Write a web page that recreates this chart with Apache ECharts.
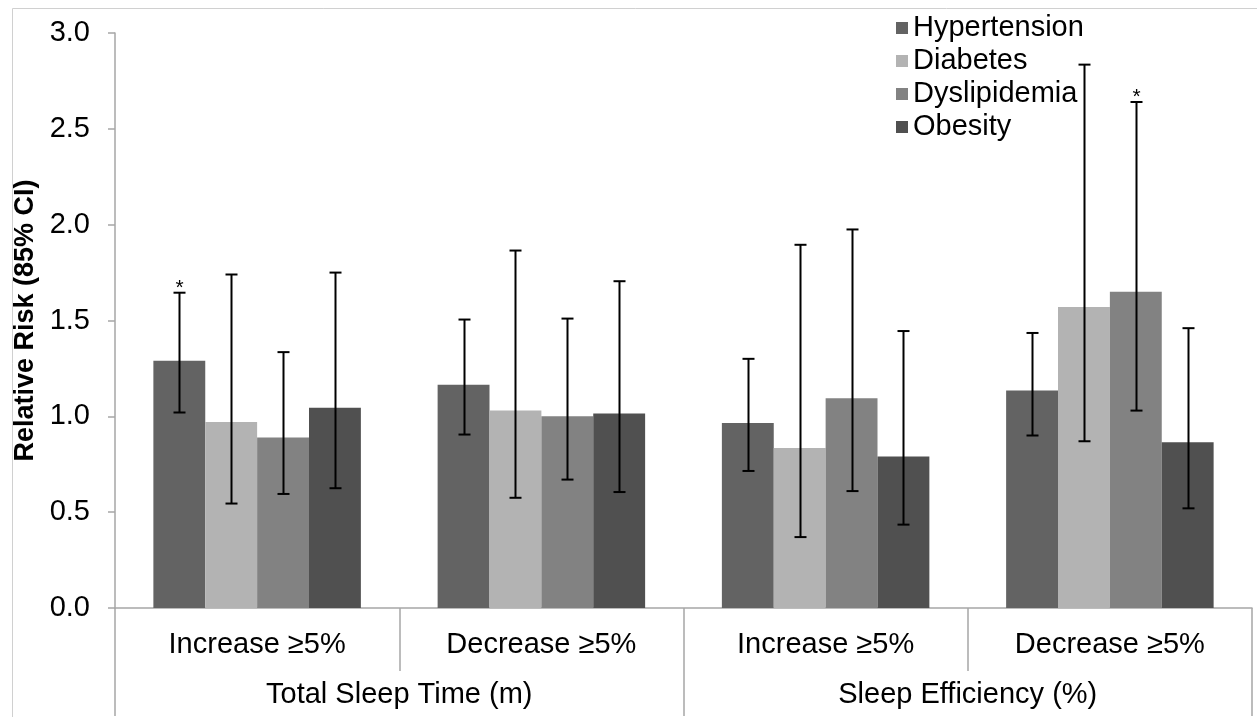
<!DOCTYPE html>
<html>
<head>
<meta charset="utf-8">
<script src="https://cdn.jsdelivr.net/npm/echarts@6/dist/echarts.min.js"></script>
<style>
html,body{margin:0;padding:0;background:#fff;}
#chart{width:1257px;height:717px;}
</style>
</head>
<body>
<div id="chart"></div>
<script>
// ---- data ----
const subCategories = ['Increase \u22655%', 'Decrease \u22655%', 'Increase \u22655%', 'Decrease \u22655%'];
const groupCategories = ['Total Sleep Time (m)', 'Sleep Efficiency (%)'];
const seriesNames = ['Hypertension', 'Diabetes', 'Dyslipidemia', 'Obesity'];
const yTicks = [0, 0.5, 1.0, 1.5, 2.0, 2.5, 3.0];

const hypertension = [1.29, 1.165, 0.965, 1.135];
const hypertensionLo = [1.02, 0.905, 0.715, 0.90];
const hypertensionHi = [1.645, 1.505, 1.30, 1.435];

const diabetes = [0.97, 1.03, 0.835, 1.57];
const diabetesLo = [0.545, 0.575, 0.37, 0.87];
const diabetesHi = [1.74, 1.865, 1.895, 2.835];

const dyslipidemia = [0.89, 1.0, 1.095, 1.65];
const dyslipidemiaLo = [0.595, 0.67, 0.61, 1.03];
const dyslipidemiaHi = [1.335, 1.51, 1.975, 2.64];

const obesity = [1.045, 1.015, 0.79, 0.865];
const obesityLo = [0.625, 0.605, 0.435, 0.52];
const obesityHi = [1.75, 1.705, 1.445, 1.46];

// significance markers (1 = asterisk)
const hypertensionSig = [1, 0, 0, 0];
const diabetesSig = [0, 0, 0, 0];
const dyslipidemiaSig = [0, 0, 0, 1];
const obesitySig = [0, 0, 0, 0];

// ---- build ----
const colors = ['#636363', '#b3b3b3', '#828282', '#505050'];
const values = [hypertension, diabetes, dyslipidemia, obesity];
const los = [hypertensionLo, diabetesLo, dyslipidemiaLo, obesityLo];
const his = [hypertensionHi, diabetesHi, dyslipidemiaHi, obesityHi];
const sigs = [hypertensionSig, diabetesSig, dyslipidemiaSig, obesitySig];
const FONT = "'Liberation Sans', Arial, sans-serif";
const GAP = 0.27;
const AXIS_COLOR = '#a6a6a6';
const FS = 29;

const errData = [];
for (let s = 0; s < 4; s++) {
  for (let c = 0; c < 4; c++) {
    errData.push([c, s, los[s][c], his[s][c], sigs[s][c]]);
  }
}

const barSeries = seriesNames.map((name, i) => ({
  name: name,
  type: 'bar',
  xAxisIndex: 0,
  yAxisIndex: 0,
  data: values[i],
  barGap: '0%',
  barCategoryGap: (GAP * 100) + '%',
  itemStyle: { color: colors[i] },
  emphasis: { disabled: true },
  z: 2
}));

const errSeries = {
  type: 'custom',
  xAxisIndex: 0,
  yAxisIndex: 0,
  z: 5,
  silent: true,
  encode: { x: 0, y: [2, 3] },
  data: errData,
  renderItem: function (params, api) {
    const c = api.value(0), s = api.value(1);
    const lo = api.coord([c, api.value(2)]);
    const hi = api.coord([c, api.value(3)]);
    const catW = api.size([1, 0])[0];
    const barW = catW * (1 - GAP) / 4;
    const x = Math.round(lo[0] + (s - 1.5) * barW) + 0.5;
    const capW = 6;
    const style = { stroke: '#000', lineWidth: 2 };
    const children = [
      { type: 'line', shape: { x1: x, y1: hi[1], x2: x, y2: lo[1] }, style: style },
      { type: 'line', shape: { x1: x - capW, y1: hi[1], x2: x + capW, y2: hi[1] }, style: style },
      { type: 'line', shape: { x1: x - capW, y1: lo[1], x2: x + capW, y2: lo[1] }, style: style }
    ];
    if (api.value(4) === 1) {
      children.push({
        type: 'text',
        style: { text: '*', x: x, y: hi[1] - 15, align: 'center', verticalAlign: 'top',
                 font: '21px ' + FONT, fill: '#000' }
      });
    }
    return { type: 'group', children: children };
  }
};

const chart = echarts.init(document.getElementById('chart'), null, { renderer: 'canvas' });
chart.setOption({
  animation: false,
  backgroundColor: '#fff',
  textStyle: { fontFamily: FONT },
  graphic: [{
    type: 'rect', left: 10, top: 6, silent: true, z: -10,
    shape: { width: 1400, height: 900 },
    style: { fill: 'none', stroke: '#d0d0d0', lineWidth: 1 }
  }],
  grid: { left: 115, right: 5, top: 33, bottom: 109, containLabel: false, outerBoundsMode: 'none' },
  legend: {
    orient: 'vertical',
    left: 891,
    top: 8,
    itemWidth: 12,
    itemHeight: 12,
    itemGap: 3,
    icon: 'rect',
    selectedMode: false,
    data: seriesNames,
    textStyle: { fontSize: FS, fontFamily: FONT, color: '#000', lineHeight: 30 }
  },
  xAxis: [{
    type: 'category',
    data: subCategories,
    position: 'bottom',
    offset: 0,
    axisLine: { show: true, lineStyle: { color: AXIS_COLOR, width: 1.5 } },
    axisTick: { show: true, interval: 0, length: 63, lineStyle: { color: AXIS_COLOR, width: 1.5 } },
    axisLabel: { interval: 0, margin: 22, fontSize: FS, color: '#000', fontFamily: FONT },
    splitLine: { show: false }
  }, {
    type: 'category',
    data: groupCategories,
    position: 'bottom',
    offset: 0,
    axisLine: { show: false },
    axisTick: { show: true, interval: 0, length: 108, lineStyle: { color: AXIS_COLOR, width: 1.5 } },
    axisLabel: { interval: 0, margin: 72, fontSize: FS, color: '#000', fontFamily: FONT },
    splitLine: { show: false }
  }],
  yAxis: {
    type: 'value',
    min: yTicks[0],
    max: yTicks[yTicks.length - 1],
    interval: 0.5,
    name: 'Relative Risk (85% CI)',
    nameLocation: 'middle',
    nameGap: 74,
    nameRotate: 90,
    nameTextStyle: { fontSize: 27, fontWeight: 'bold', color: '#000', fontFamily: FONT },
    axisLine: { show: true, lineStyle: { color: AXIS_COLOR, width: 1.5 } },
    axisTick: { show: true, length: 7, lineStyle: { color: AXIS_COLOR, width: 1.5 } },
    axisLabel: { margin: 25, fontSize: FS, color: '#000', fontFamily: FONT,
                 formatter: v => v.toFixed(1) },
    splitLine: { show: false }
  },
  series: barSeries.concat([errSeries])
});
</script>
</body>
</html>
